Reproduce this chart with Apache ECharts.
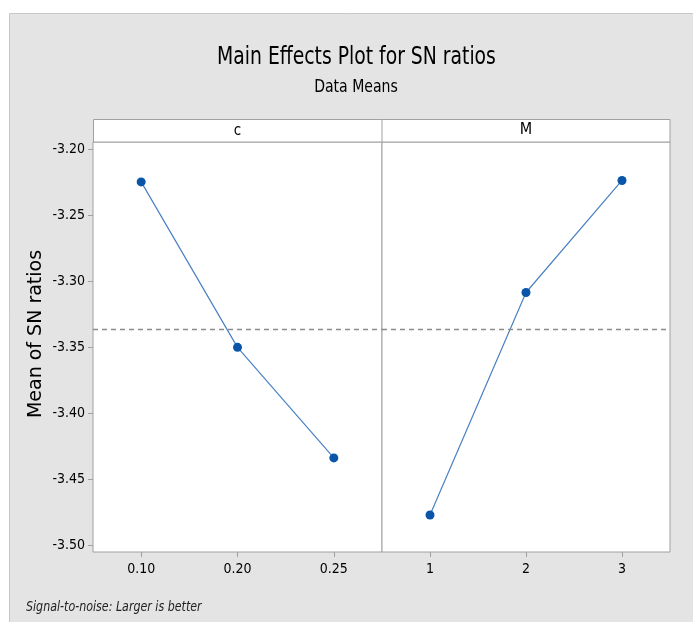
<!DOCTYPE html>
<html><head><meta charset="utf-8">
<script src="https://cdn.jsdelivr.net/npm/echarts@6/dist/echarts.min.js"></script>
<style>html,body{margin:0;padding:0;background:#fff}#c{width:693px;height:622px}</style>
</head><body><div id="c"></div>
<script>
var cLevels = ['0.10', '0.20', '0.25'];
var cMeans = [-3.2247, -3.3499, -3.4336];
var mLevels = ['1', '2', '3'];
var mMeans = [-3.4768, -3.3084, -3.2236];
var yTicks = [-3.50, -3.45, -3.40, -3.35, -3.30, -3.25, -3.20];
var yMin = -3.5048, yMax = -3.1945;

var all = cMeans.concat(mMeans);
var grand = all.reduce(function(a,b){return a+b;},0)/all.length;

var FONT = "'Liberation Sans Narrow','DejaVu Sans Condensed',sans-serif";
var chart = echarts.init(document.getElementById('c'));
function yAxis(idx, show){
  return {
    type:'value', gridIndex: idx, min: yMin, max: yMax,
    axisLine:{show:false}, splitLine:{show:false},
    axisTick:{show:show, inside:false, length:5, lineStyle:{color:'#a0a0a0'}, customValues: yTicks},
    axisLabel:{show:show, margin:8, color:'#000', fontSize:14, fontFamily:FONT,
      customValues: yTicks, formatter:function(v){return v.toFixed(2);}}
  };
}
function xAxis(idx, cats){
  return {
    type:'category', gridIndex: idx, data: cats, boundaryGap:true,
    axisLine:{show:false}, splitLine:{show:false},
    axisTick:{show:true, alignWithLabel:true, length:5, lineStyle:{color:'#a0a0a0'}},
    axisLabel:{margin:10, color:'#000', fontSize:14, fontFamily:FONT}
  };
}
var markLine = {
  silent:true, symbol:'none', label:{show:false}, precision:6,
  lineStyle:{color:'#8c8c8c', type:[5,4], width:1.3},
  data:[{yAxis: grand}]
};
var option = {
  backgroundColor:'#fff',
  animation:false,
  graphic:[
    {type:'rect', z:-10, shape:{x:9.5, y:13.5, width:690, height:615}, style:{fill:'#e4e4e4', stroke:'#c8c8c8', lineWidth:1}},
    {type:'rect', z:10, shape:{x:93.5, y:119.5, width:576.5, height:22.5}, style:{fill:'#fff', stroke:'#a0a0a0', lineWidth:1}},
    {type:'line', z:11, shape:{x1:382, y1:119.5, x2:382, y2:142}, style:{stroke:'#a0a0a0', lineWidth:1}},
    {type:'text', z:12, x:237.5, y:131, style:{text:'c', fill:'#000', font:'15px '+FONT, textAlign:'center', textVerticalAlign:'middle'}},
    {type:'text', z:12, x:526, y:130, style:{text:'M', fill:'#000', font:'16px '+FONT, textAlign:'center', textVerticalAlign:'middle'}},
    {type:'text', z:12, x:356.5, y:58, scaleX:0.87, style:{text:'Main Effects Plot for SN ratios', fill:'#000', font:'24px '+FONT, textAlign:'center', textVerticalAlign:'middle'}},
    {type:'text', z:12, x:356, y:88, scaleX:0.92, style:{text:'Data Means', fill:'#000', font:'17px '+FONT, textAlign:'center', textVerticalAlign:'middle'}},
    {type:'text', z:12, x:26, y:607, scaleX:0.88, style:{text:'Signal-to-noise: Larger is better', fill:'#222', font:'italic 14px '+FONT, textAlign:'left', textVerticalAlign:'middle'}},
    {type:'text', z:12, x:36, y:334, rotation:Math.PI/2, style:{text:'Mean of SN ratios', fill:'#000', font:'19px DejaVu Sans', textAlign:'center', textVerticalAlign:'middle'}}
  ],
  grid:[
    {left:93, top:142, width:289, height:410, show:true, backgroundColor:'#fff', borderColor:'#a0a0a0', borderWidth:1},
    {left:382, top:142, width:288, height:410, show:true, backgroundColor:'#fff', borderColor:'#a0a0a0', borderWidth:1}
  ],
  xAxis:[xAxis(0, cLevels), xAxis(1, mLevels)],
  yAxis:[yAxis(0, true), yAxis(1, false)],
  series:[
    {type:'line', xAxisIndex:0, yAxisIndex:0, data:cMeans, symbol:'circle', symbolSize:9,
      itemStyle:{color:'#0a55a8'}, lineStyle:{color:'#4a80c4', width:1.2}, markLine: markLine},
    {type:'line', xAxisIndex:1, yAxisIndex:1, data:mMeans, symbol:'circle', symbolSize:9,
      itemStyle:{color:'#0a55a8'}, lineStyle:{color:'#4a80c4', width:1.2}, markLine: markLine}
  ]
};
chart.setOption(option);
</script></body></html>
